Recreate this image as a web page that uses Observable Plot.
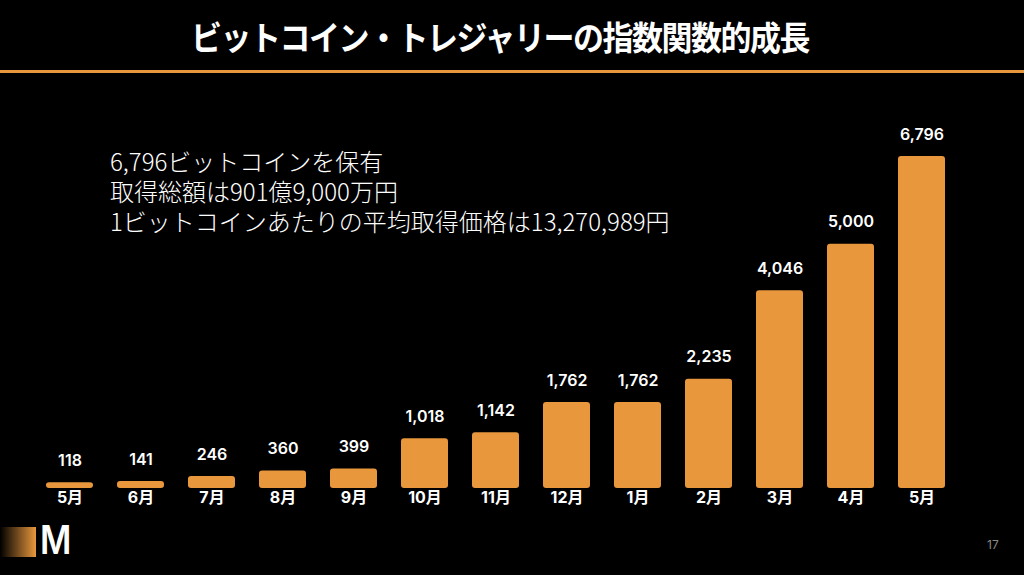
<!DOCTYPE html>
<html>
<head>
<meta charset="utf-8">
<script src="https://cdn.jsdelivr.net/npm/d3@7"></script>
<script src="https://cdn.jsdelivr.net/npm/@observablehq/plot@0.6"></script>
<style>
  html, body { margin: 0; padding: 0; background: #000; }
  #page { position: relative; width: 1024px; height: 575px; background: #000; overflow: hidden; }
  #title { position: absolute; left: 0; width: 1000px; top: 11px; text-align: center; color: #fff;
           font-family: "Noto Sans CJK JP", sans-serif; font-weight: 700; font-size: 31px; line-height: 50px; letter-spacing: -1.5px; }
  #title span { display: inline-block; transform: scaleY(1.08); }
  #rule { position: absolute; left: 0; top: 70px; width: 1024px; height: 3px; background: #E8973D; }
  .note { position: absolute; left: 110px; color: #fff; font-family: "Noto Sans CJK JP", sans-serif;
           font-weight: 300; font-size: 24px; line-height: 28px; white-space: nowrap; }
  #chart { position: absolute; left: 0; top: 0; }
  #logo-sq { position: absolute; left: 0; top: 527px; width: 36px; height: 30px;
             background: linear-gradient(to right, #000, #E8973D); }
  #logo-m { position: absolute; left: 40px; top: 517px; color: #fff; font-family: "Inter", sans-serif; font-weight: 600;
            font-size: 40px; line-height: 46px; transform: scaleX(0.85); transform-origin: left center; }
  #pageno { position: absolute; left: 987px; top: 537px; color: #8a8a8a; font-family: "Inter", sans-serif; font-size: 12px; }
</style>
</head>
<body>
<div id="page">
  <div id="title"></div>
  <div id="rule"></div>
  <div id="chart"></div>
  <div id="notes"></div>
  <div id="logo-sq"></div>
  <div id="logo-m">M</div>
  <div id="pageno">17</div>
</div>
<script>
const titleText = "ビットコイン・トレジャリーの指数関数的成長";
const noteLines = [
  "6,796ビットコインを保有",
  "取得総額は901億9,000万円",
  "1ビットコインあたりの平均取得価格は13,270,989円"
];
const periods = ["2024-05","2024-06","2024-07","2024-08","2024-09","2024-10","2024-11","2024-12","2025-01","2025-02","2025-03","2025-04","2025-05"];
const monthLabels = ["5月","6月","7月","8月","9月","10月","11月","12月","1月","2月","3月","4月","5月"];
const holdings = [118, 141, 246, 360, 399, 1018, 1142, 1762, 1762, 2235, 4046, 5000, 6796];

document.getElementById("title").innerHTML = `<span>${titleText}</span>`;
document.getElementById("notes").innerHTML = noteLines
  .map((s, i) => `<div class="note" style="top:${147 + i * 30}px">${s}</div>`).join("");

const data = periods.map((p, i) => ({period: p, label: monthLabels[i], value: holdings[i]}));
const labelOf = Object.fromEntries(data.map(d => [d.period, d.label]));
const orange = "#E8973D";

const chart = Plot.plot({
  width: 1024,
  height: 575,
  marginLeft: 17,
  marginRight: 50,
  marginTop: 156,
  marginBottom: 87,
  style: {background: "transparent", color: "#fff", overflow: "visible"},
  x: {domain: periods, padding: 0.34, label: null},
  y: {domain: [0, 6796], axis: null},
  marks: [
    Plot.barY(data, {x: "period", y: "value", fill: orange, rx: 3}),
    Plot.text(data, {x: "period", y: "value", text: d => d3.format(",")(d.value), dy: -22,
      fill: "#fff", fontSize: 16, fontWeight: 600, fontFamily: "Inter, sans-serif"}),
    Plot.axisX({tickSize: 0, tickPadding: 3, tickFormat: p => labelOf[p], fill: "#fff",
      fontSize: 16, fontWeight: 700, fontFamily: "Inter, 'Noto Sans CJK JP', sans-serif", label: null})
  ]
});
document.getElementById("chart").appendChild(chart);
</script>
</body>
</html>
